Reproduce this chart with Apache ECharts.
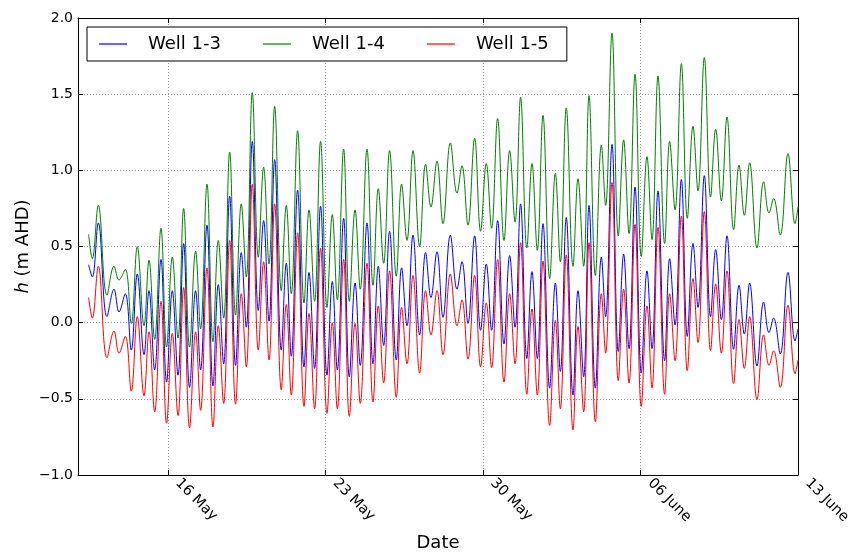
<!DOCTYPE html>
<html>
<head>
<meta charset="utf-8">
<script src="https://cdn.jsdelivr.net/npm/echarts@6/dist/echarts.min.js"></script>
<style>
  html, body { margin: 0; padding: 0; background: #fff; }
  #chart { width: 861px; height: 555px; }
</style>
</head>
<body>
<div id="chart"></div>
<script>
// Times of successive high and low water in the wells (local time)
const extremaTimes = [
  '2013-05-12 11:20','2013-05-12 15:15','2013-05-12 21:40','2013-05-13 06:55','2013-05-13 14:25','2013-05-13 19:45','2013-05-14 02:25','2013-05-14 08:50','2013-05-14 15:15','2013-05-14 22:25',
  '2013-05-15 03:45','2013-05-15 09:45','2013-05-15 16:30','2013-05-15 22:30','2013-05-16 04:35','2013-05-16 10:40','2013-05-16 16:40','2013-05-16 23:00','2013-05-17 05:25','2013-05-17 10:45',
  '2013-05-17 17:35','2013-05-18 00:00','2013-05-18 05:40','2013-05-18 11:20','2013-05-18 17:45','2013-05-19 00:05','2013-05-19 06:10','2013-05-19 11:30','2013-05-19 17:55','2013-05-20 00:20',
  '2013-05-20 06:00','2013-05-20 11:45','2013-05-20 17:45','2013-05-21 00:50','2013-05-21 06:10','2013-05-21 11:30','2013-05-21 18:15','2013-05-22 01:05','2013-05-22 06:25','2013-05-22 12:20',
  '2013-05-22 18:45','2013-05-23 01:35','2013-05-23 07:15','2013-05-23 12:35','2013-05-23 19:20','2013-05-24 01:25','2013-05-24 07:30','2013-05-24 13:05','2013-05-24 20:15','2013-05-25 02:40',
  '2013-05-25 08:20','2013-05-25 14:00','2013-05-25 20:20','2013-05-26 03:30','2013-05-26 09:10','2013-05-26 14:55','2013-05-26 21:20','2013-05-27 04:25','2013-05-27 10:45','2013-05-27 16:30',
  '2013-05-27 22:55','2013-05-28 05:20','2013-05-28 13:10','2013-05-28 20:15','2013-05-29 01:35','2013-05-29 08:00','2013-05-29 15:05','2013-05-29 21:25','2013-05-30 03:30','2013-05-30 09:10',
  '2013-05-30 15:35','2013-05-30 22:25','2013-05-31 04:25','2013-05-31 10:10','2013-05-31 16:05','2013-05-31 22:45','2013-06-01 04:15','2013-06-01 09:55','2013-06-01 16:00','2013-06-01 23:05',
  '2013-06-02 05:10','2013-06-02 10:30','2013-06-02 16:50','2013-06-03 00:00','2013-06-03 05:20','2013-06-03 11:20','2013-06-03 17:05','2013-06-03 23:50','2013-06-04 06:15','2013-06-04 10:45',
  '2013-06-04 17:35','2013-06-05 00:20','2013-06-05 06:00','2013-06-05 11:45','2013-06-05 18:10','2013-06-06 00:50','2013-06-06 06:55','2013-06-06 12:15','2013-06-06 18:40','2013-06-07 01:45',
  '2013-06-07 07:05','2013-06-07 12:50','2013-06-07 19:35','2013-06-08 01:55','2013-06-08 08:00','2013-06-08 13:20','2013-06-08 20:05','2013-06-09 02:45','2013-06-09 08:10','2013-06-09 14:15',
  '2013-06-09 20:15','2013-06-10 03:20','2013-06-10 09:05','2013-06-10 14:45','2013-06-10 20:25','2013-06-11 04:15','2013-06-11 11:20','2013-06-11 17:05','2013-06-11 22:00','2013-06-12 05:05',
  '2013-06-12 13:20','2013-06-12 20:50','2013-06-13 00:00'
];

// Head h (m AHD) at those times
const well13 = [
  0.38, 0.30, 0.655, 0.04, 0.22, 0.07, 0.19, -0.18, 0.32, -0.21,
  0.21, -0.31, 0.415, -0.39, 0.21, -0.345, 0.52, -0.425, 0.21, -0.31,
  0.64, -0.415, 0.25, -0.27, 0.83, -0.28, 0.46, -0.03, 1.19, 0.08,
  0.67, 0.01, 1.07, -0.18, 0.39, -0.22, 0.87, -0.29, 0.33, -0.30,
  0.765, -0.345, 0.27, -0.31, 0.685, -0.355, 0.26, -0.28, 0.655, -0.27,
  0.37, -0.15, 0.60, -0.245, 0.36, -0.02, 0.575, -0.08, 0.46, 0.165,
  0.465, 0.035, 0.575, 0.22, 0.40, -0.005, 0.57, -0.05, 0.385, -0.05,
  0.67, -0.14, 0.44, -0.03, 0.78, -0.235, 0.335, -0.235, 0.65, -0.43,
  0.26, -0.32, 0.69, -0.475, 0.21, -0.355, 0.77, -0.43, 0.43, 0.04,
  1.17, -0.19, 0.45, -0.17, 0.89, -0.33, 0.34, -0.17, 0.865, -0.25,
  0.42, -0.015, 0.94, -0.09, 0.52, 0.10, 0.965, 0.04, 0.48, 0.02,
  0.57, -0.175, 0.245, -0.075, 0.26, -0.285, 0.135, -0.065, 0.03, -0.205,
  0.33, -0.12, -0.04
];
const well14 = [
  0.58, 0.42, 0.77, 0.18, 0.37, 0.28, 0.35, -0.005, 0.50, -0.02,
  0.41, -0.11, 0.62, -0.16, 0.43, -0.10, 0.75, -0.16, 0.47, -0.04,
  0.91, -0.125, 0.54, 0.03, 1.12, 0.05, 0.78, 0.30, 1.51, 0.43,
  1.02, 0.385, 1.42, 0.21, 0.77, 0.19, 1.26, 0.13, 0.74, 0.14,
  1.19, 0.10, 0.71, 0.15, 1.14, 0.14, 0.74, 0.22, 1.14, 0.245,
  0.88, 0.39, 1.13, 0.305, 0.91, 0.54, 1.13, 0.50, 1.04, 0.76,
  1.06, 0.65, 1.18, 0.85, 1.03, 0.64, 1.21, 0.60, 1.045, 0.62,
  1.34, 0.54, 1.13, 0.66, 1.48, 0.49, 1.045, 0.475, 1.36, 0.29,
  0.98, 0.40, 1.41, 0.37, 0.945, 0.37, 1.49, 0.31, 1.165, 0.77,
  1.90, 0.57, 1.20, 0.585, 1.63, 0.435, 1.09, 0.545, 1.62, 0.52,
  1.19, 0.74, 1.70, 0.685, 1.29, 0.865, 1.74, 0.825, 1.27, 0.80,
  1.35, 0.61, 1.035, 0.705, 1.05, 0.49, 0.925, 0.72, 0.815, 0.575,
  1.11, 0.65, 0.76
];
const well15 = [
  0.165, 0.03, 0.37, -0.23, -0.055, -0.20, -0.09, -0.45, 0.04, -0.48,
  -0.06, -0.585, 0.14, -0.66, -0.07, -0.61, 0.23, -0.69, -0.06, -0.575,
  0.36, -0.685, -0.02, -0.53, 0.54, -0.535, 0.19, -0.29, 0.91, -0.18,
  0.40, -0.245, 0.78, -0.44, 0.12, -0.475, 0.59, -0.55, 0.06, -0.565,
  0.49, -0.595, 0.0, -0.565, 0.415, -0.615, -0.005, -0.53, 0.39, -0.52,
  0.11, -0.395, 0.34, -0.49, 0.10, -0.27, 0.31, -0.33, 0.21, -0.08,
  0.21, -0.21, 0.32, -0.02, 0.15, -0.24, 0.31, -0.29, 0.13, -0.295,
  0.415, -0.39, 0.19, -0.27, 0.525, -0.47, 0.09, -0.475, 0.405, -0.675,
  0.015, -0.565, 0.445, -0.705, -0.025, -0.585, 0.525, -0.65, 0.19, -0.20,
  0.92, -0.38, 0.22, -0.395, 0.645, -0.55, 0.11, -0.43, 0.625, -0.47,
  0.19, -0.25, 0.70, -0.315, 0.29, -0.13, 0.73, -0.183, 0.255, -0.20,
  0.34, -0.40, 0.02, -0.30, 0.04, -0.505, -0.08, -0.28, -0.185, -0.425,
  0.115, -0.335, -0.245
];

const seriesNames = ['Well 1-3', 'Well 1-4', 'Well 1-5'];
const seriesColors = ['#0000ff', '#008000', '#ff0000'];
const dateRange = ['2013-05-12 00:00', '2013-06-13 00:00'];
const dateTicks = ['2013-05-16 00:00', '2013-05-23 00:00', '2013-05-30 00:00', '2013-06-06 00:00', '2013-06-13 00:00'];
const levelRange = [-1.0, 2.0];
const levelStep = 0.5;

const FONT = 'DejaVu Sans';
const monthNames = ['January','February','March','April','May','June','July','August','September','October','November','December'];
const toMs = s => {
  const [d, t] = s.split(' ');
  const [y, m, day] = d.split('-').map(Number);
  const [hh, mm] = t.split(':').map(Number);
  return new Date(y, m - 1, day, hh, mm).getTime();
};
const tickMs = dateTicks.map(toMs);
const fmtDate = v => {
  const d = new Date(v);
  return String(d.getDate()).padStart(2, '0') + ' ' + monthNames[d.getMonth()];
};
const fmtLevel = v => v.toFixed(1).replace('-', '\u2212');

const pairs = arr => extremaTimes.map((t, i) => [toMs(t), arr[i]]);
const wellValues = [well13, well14, well15];

const xBase = {
  type: 'value',
  min: toMs(dateRange[0]),
  max: toMs(dateRange[1]),
  axisLine: { show: true, onZero: false, lineStyle: { color: '#000', width: 1 } },
  axisTick: { show: true, inside: true, length: 5, customValues: tickMs, lineStyle: { color: '#000' } },
};
const yBase = {
  type: 'value',
  min: levelRange[0],
  max: levelRange[1],
  interval: levelStep,
  axisLine: { show: true, onZero: false, lineStyle: { color: '#000', width: 1 } },
  axisTick: { show: true, inside: true, length: 5, lineStyle: { color: '#000' } },
};

const chart = echarts.init(document.getElementById('chart'), null, { renderer: 'canvas' });
chart.setOption({
  animation: false,
  backgroundColor: '#fff',
  grid: { left: 78, right: 63, top: 18, bottom: 80, containLabel: false, outerBoundsMode: 'none' },
  legend: {
    data: seriesNames.map((name, k) => ({ name, icon: 'rect', itemStyle: { color: seriesColors[k] } })),
    left: 87, top: 27,
    backgroundColor: '#fff',
    borderColor: '#000', borderWidth: 1, borderRadius: 0,
    padding: [8, 18, 8, 12],
    itemWidth: 28, itemHeight: 1.2, itemGap: 42,
    textStyle: { fontFamily: FONT, fontSize: 18, color: '#000', padding: [0, 0, 0, 16], lineHeight: 18 }
  },
  xAxis: [
    Object.assign({}, xBase, {
      position: 'bottom',
      name: 'Date',
      nameLocation: 'middle',
      nameGap: 59,
      nameMoveOverlap: false,
      nameTextStyle: { fontFamily: FONT, fontSize: 18, color: '#000' },
      axisLabel: {
        customValues: tickMs,
        formatter: fmtDate,
        rotate: -45,
        verticalAlign: 'bottom',
        padding: [0, 0, 0, 6],
        margin: 7,
        fontFamily: FONT, fontSize: 14.5, color: '#000'
      },
      splitLine: { show: true, lineStyle: { color: '#999', width: 1, type: [1, 2] } }
    }),
    Object.assign({}, xBase, {
      position: 'top',
      axisLabel: { show: false },
      splitLine: { show: false }
    })
  ],
  yAxis: [
    Object.assign({}, yBase, {
      position: 'left',
      name: '{i|h} (m AHD)',
      nameLocation: 'middle',
      nameGap: 46,
      nameMoveOverlap: false,
      nameTextStyle: {
        fontFamily: FONT, fontSize: 18, color: '#000',
        rich: { i: { fontFamily: FONT, fontSize: 18, fontStyle: 'italic', color: '#000' } }
      },
      axisLabel: { formatter: fmtLevel, margin: 5, fontFamily: FONT, fontSize: 14, color: '#000' },
      splitLine: { show: true, lineStyle: { color: '#999', width: 1, type: [1, 2] } }
    }),
    Object.assign({}, yBase, {
      position: 'right',
      axisLabel: { show: false },
      splitLine: { show: false }
    })
  ],
  series: seriesNames.map((name, k) => ({
    name,
    type: 'line',
    xAxisIndex: 0,
    yAxisIndex: 0,
    data: pairs(wellValues[k]),
    smooth: 0.4,
    symbol: 'none',
    showSymbol: false,
    lineStyle: { color: seriesColors[k], width: 1 },
    itemStyle: { color: seriesColors[k] },
    emphasis: { disabled: true },
    z: 2 + k
  }))
});
</script>
</body>
</html>
